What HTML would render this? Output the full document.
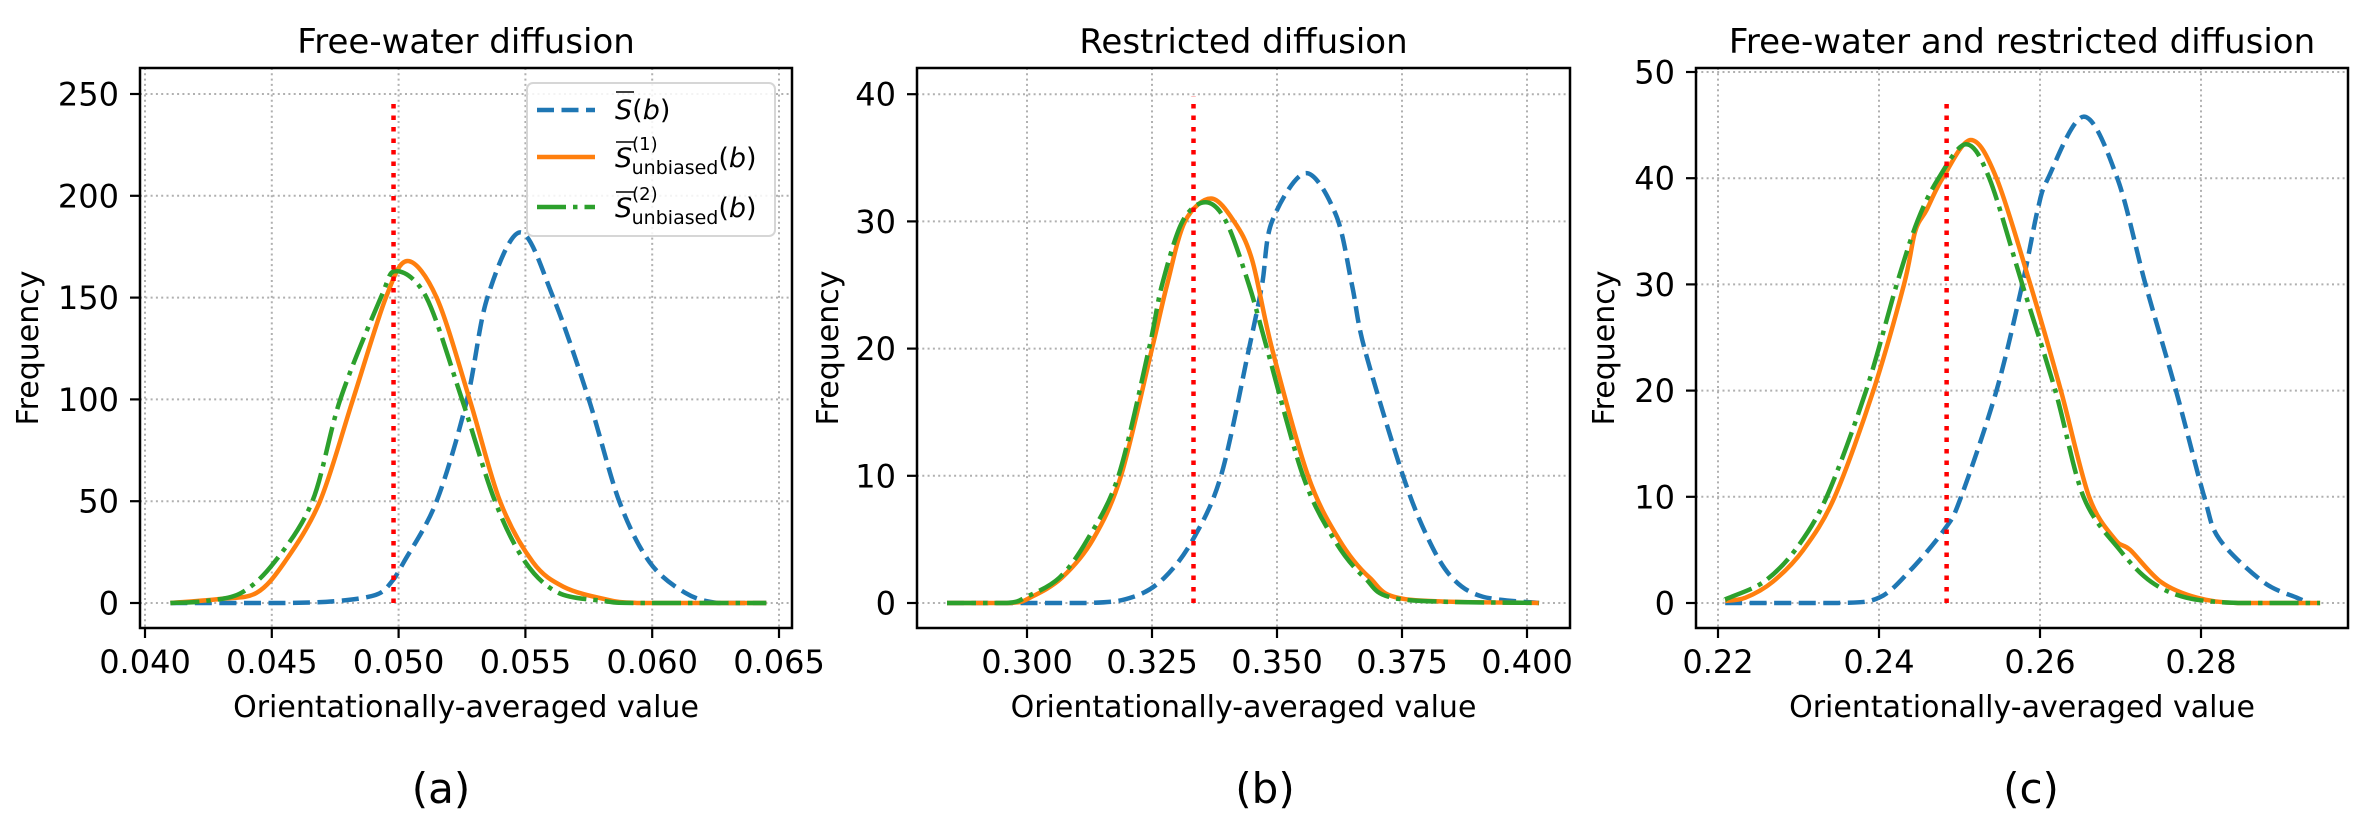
<!DOCTYPE html>
<html><head><meta charset="utf-8"><style>
html,body{margin:0;padding:0;background:#fff;}
svg{display:block;font-family:"DejaVu Sans","Liberation Sans",sans-serif;}
</style></head><body>
<svg id="fig" width="2371" height="828" viewBox="0 0 2371 828" xmlns="http://www.w3.org/2000/svg"></svg>
<script>
// ---------- Panel (a) data ----------
const aTitle = "Free-water diffusion";
const aXTicks = [0.040, 0.045, 0.050, 0.055, 0.060, 0.065];
const aXTickLabels = ["0.040","0.045","0.050","0.055","0.060","0.065"];
const aYTicks = [0, 50, 100, 150, 200, 250];
const aBlueX = [0.041,0.0455,0.0476,0.0491,0.0497,0.0502,0.0515,0.0527,0.0535,0.0548,0.0561,0.0575,0.0587,0.0599,0.0613,0.0626,0.0645];
const aBlueY = [0,0,1,4,10,20,50,100,150,182,150,100,50,20,5,0,0];
const aOrangeX = [0.041,0.043,0.0444,0.0455,0.0469,0.0482,0.0495,0.05035,0.0515,0.0528,0.054,0.0553,0.0565,0.0581,0.0595,0.0645];
const aOrangeY = [0,2,5,20,50,100,150,168,150,100,50,20,8,2,0,0];
const aGreenX = [0.041,0.0424,0.0438,0.0451,0.0466,0.0477,0.0493,0.0499,0.0511,0.0525,0.0538,0.055,0.0563,0.0581,0.0593,0.0645];
const aGreenY = [0,1,5,20,50,100,150,163,150,100,50,20,5,1,0,0];
const aRedX = 0.0498, aRedTop = 248;

// ---------- Panel (b) data ----------
const bTitle = "Restricted diffusion";
const bXTicks = [0.300, 0.325, 0.350, 0.375, 0.400];
const bXTickLabels = ["0.300","0.325","0.350","0.375","0.400"];
const bYTicks = [0, 10, 20, 30, 40];
const bBlueX = [0.284,0.3121,0.3214,0.3275,0.3332,0.3388,0.3444,0.347,0.349,0.3557,0.3618,0.365,0.3675,0.3752,0.3803,0.385,0.3911,0.4024];
const bBlueY = [0,0,0.5,2,5,10,20,25,30,33.8,30.5,25,20,10,5,2,0.5,0];
const bOrangeX = [0.284,0.2968,0.301,0.307,0.3132,0.3188,0.325,0.328,0.3316,0.3368,0.3414,0.345,0.349,0.3562,0.3624,0.3685,0.3757,0.4024];
const bOrangeY = [0,0,0.5,2,5,10,20,25,30,31.8,30,27,20,10,5,2,0.3,0];
const bGreenX = [0.284,0.296,0.300,0.3065,0.3121,0.3183,0.3244,0.327,0.3311,0.3357,0.3398,0.3444,0.348,0.3552,0.3614,0.3675,0.3747,0.4024];
const bGreenY = [0,0,0.5,2,5,10,20,25,30,31.5,30,25,20,10,5,2,0.3,0];
const bRedX = 0.3333, bRedTop = 39.8;

// ---------- Panel (c) data ----------
const cTitle = "Free-water and restricted diffusion";
const cXTicks = [0.22, 0.24, 0.26, 0.28];
const cXTickLabels = ["0.22","0.24","0.26","0.28"];
const cYTicks = [0, 10, 20, 30, 40, 50];
const cBlueX = [0.2209,0.2349,0.240,0.2438,0.2482,0.2502,0.2546,0.2578,0.2597,0.261,0.26544,0.2696,0.2731,0.2769,0.2804,0.2823,0.2877,0.2919,0.2935];
const cBlueY = [0,0,0.5,3,7,10,20,30,37,40,45.8,40,30,20,10,6,2,0.5,0];
const cOrangeX = [0.2209,0.2234,0.2268,0.2306,0.2345,0.2393,0.2431,0.2445,0.2459,0.2479,0.2514,0.2546,0.2588,0.2626,0.2661,0.2693,0.2712,0.275,0.2795,0.2846,0.2948];
const cOrangeY = [0.2,0.5,2,5,10,20,30,35,37,40,43.6,40,30,20,10,6,5,2,0.5,0,0];
const cGreenX = [0.2209,0.2214,0.2257,0.2296,0.2335,0.2384,0.2422,0.2448,0.2474,0.2508,0.2537,0.2578,0.2619,0.2654,0.2699,0.2738,0.2782,0.2846,0.2948];
const cGreenY = [0.3,0.5,2,5,10,20,30,36,40,43.2,40,30,20,10,5,2,0.5,0,0];
const cRedX = 0.2484, cRedTop = 47.5;

const NS = "http://www.w3.org/2000/svg";
const svg = document.getElementById('fig');
function mk(tag, attrs, parent, text){
  const e = document.createElementNS(NS, tag);
  for (const k in attrs) e.setAttribute(k, attrs[k]);
  if (text !== undefined) e.textContent = text;
  (parent || svg).appendChild(e);
  return e;
}
function smoothPath(pts){
  let d = "M" + pts[0][0].toFixed(1) + "," + pts[0][1].toFixed(1);
  for (let i = 0; i < pts.length - 1; i++){
    const p0 = pts[Math.max(0,i-1)], p1 = pts[i], p2 = pts[i+1], p3 = pts[Math.min(pts.length-1,i+2)];
    const t = 0.16;
    let c1y = p1[1] + (p2[1]-p0[1])*t, c2y = p2[1] - (p3[1]-p1[1])*t;
    const c1x = p1[0] + (p2[0]-p0[0])*t, c2x = p2[0] - (p3[0]-p1[0])*t;
    const lo = Math.max(p1[1],p2[1]);
    if (c1y > lo) c1y = lo; if (c2y > lo) c2y = lo;
    d += " C" + c1x.toFixed(1)+","+c1y.toFixed(1)+" "+c2x.toFixed(1)+","+c2y.toFixed(1)+" "+p2[0].toFixed(1)+","+p2[1].toFixed(1);
  }
  return d;
}

function panel(cfg){
  const g = mk('g', {});
  
  
  const L = cfg.left, R = cfg.right, T = 68, B = 628;
  const xs = v => cfg.x0px + (v - cfg.x0) / (cfg.x1 - cfg.x0) * (cfg.x1px - cfg.x0px);
  const ys = v => cfg.y0px - v * cfg.ypu;
  cfg.xticks.forEach((v,i) => {
    const gl = mk('line', {x1:xs(v), x2:xs(v), y1:T, y2:B, stroke:'#b0b0b0', 'stroke-width':2, 'stroke-dasharray':'2,3.3'}, g);
    
    
  });
  cfg.yticks.forEach(v => {
    const gl = mk('line', {x1:L, x2:R, y1:ys(v), y2:ys(v), stroke:'#b0b0b0', 'stroke-width':2, 'stroke-dasharray':'2,3.3'}, g);
    
    
  });
  const series = [
    {n:'blue-series', X:cfg.blueX, Y:cfg.blueY, c:'#1f77b4', dash:'17,7.5'},
    {n:'orange-series', X:cfg.orangeX, Y:cfg.orangeY, c:'#ff7f0e', dash:''},
    {n:'green-series', X:cfg.greenX, Y:cfg.greenY, c:'#2ca02c', dash:'29,7,4.5,7'}
  ];
  series.forEach(s => {
    const pts = s.X.map((x,i) => [xs(x), ys(s.Y[i])]);
    const attrs = {d:smoothPath(pts), fill:'none', stroke:s.c, 'stroke-width':4.5};
    if (s.dash) attrs['stroke-dasharray'] = s.dash;
    const p = mk('path', attrs, g);
    
    
  });
  const red = mk('line', {x1:xs(cfg.redX), x2:xs(cfg.redX), y1:ys(0), y2:ys(cfg.redTop), stroke:'#ff0000', 'stroke-width':4.5, 'stroke-dasharray':'4.5,7'}, g);
  
  
  const fr = mk('rect', {x:L, y:T, width:R-L, height:B-T, fill:'none', stroke:'#000', 'stroke-width':2.5}, g);
  
  
  cfg.xticks.forEach((v,i) => {
    mk('line', {x1:xs(v), x2:xs(v), y1:B, y2:B+10, stroke:'#000', 'stroke-width':2.2}, g);
    const t = mk('text', {x:xs(v), y:673, 'font-size':32, 'text-anchor':'middle'}, g, cfg.xlabels[i]);
    
    
  });
  cfg.yticks.forEach(v => {
    mk('line', {x1:L-10, x2:L, y1:ys(v), y2:ys(v), stroke:'#000', 'stroke-width':2.2}, g);
    const t = mk('text', {x:L-21, y:ys(v)+11.5, 'font-size':32, 'text-anchor':'end'}, g, String(v));
    
    
  });
  const cx = (L+R)/2;
  const tt = mk('text', {x:cx, y:53, 'font-size':34, 'text-anchor':'middle'}, g, cfg.title);
  
  
  const xl = mk('text', {x:cx, y:717, 'font-size':30, 'text-anchor':'middle'}, g, 'Orientationally-averaged value');
  
  
  const yl = mk('text', {x:0, y:0, 'font-size':30, 'text-anchor':'middle', transform:'translate('+cfg.ylabX+',348) rotate(-90)'}, g, 'Frequency');
  
  
  const pl = mk('text', {x:cfg.capX, y:803, 'font-size':42, 'text-anchor':'middle'}, g, cfg.cap);
  
  
  return g;
}

panel({id:'panel-a', left:140, right:792, x0:0.040, x1:0.065, x0px:145, x1px:779, y0px:603, ypu:2.036,
  xticks:aXTicks, xlabels:aXTickLabels, yticks:aYTicks, blueX:aBlueX, blueY:aBlueY, orangeX:aOrangeX, orangeY:aOrangeY,
  greenX:aGreenX, greenY:aGreenY, redX:aRedX, redTop:aRedTop, title:aTitle, ylabX:38, cap:'(a)', capX:441});
panel({id:'panel-b', left:917, right:1570, x0:0.300, x1:0.400, x0px:1027, x1px:1527, y0px:603, ypu:12.72,
  xticks:bXTicks, xlabels:bXTickLabels, yticks:bYTicks, blueX:bBlueX, blueY:bBlueY, orangeX:bOrangeX, orangeY:bOrangeY,
  greenX:bGreenX, greenY:bGreenY, redX:bRedX, redTop:bRedTop, title:bTitle, ylabX:838, cap:'(b)', capX:1265});
panel({id:'panel-c', left:1696, right:2348, x0:0.22, x1:0.28, x0px:1718, x1px:2201, y0px:603, ypu:10.62,
  xticks:cXTicks, xlabels:cXTickLabels, yticks:cYTicks, blueX:cBlueX, blueY:cBlueY, orangeX:cOrangeX, orangeY:cOrangeY,
  greenX:cGreenX, greenY:cGreenY, redX:cRedX, redTop:cRedTop, title:cTitle, ylabX:1614, cap:'(c)', capX:2031});
</script>
<script>
(function(){
  const NS = "http://www.w3.org/2000/svg";
  const svg = document.getElementById('fig');
  const lg = document.createElementNS(NS,'g');
  
  
  svg.appendChild(lg);
  lg.innerHTML =
    '<rect x="527" y="83" width="248" height="153" rx="6" fill="#fff" fill-opacity="0.85" stroke="#d6d6d6" stroke-width="2"/>' +
    '<line x1="537" x2="595" y1="110" y2="110" stroke="#1f77b4" stroke-width="4.5" stroke-dasharray="17,7.5"/>' +
    '<line x1="537" x2="595" y1="157" y2="157" stroke="#ff7f0e" stroke-width="4.5"/>' +
    '<line x1="537" x2="595" y1="207" y2="207" stroke="#2ca02c" stroke-width="4.5" stroke-dasharray="29,7,4.5,7"/>' +
    '<line x1="616" x2="634" y1="92" y2="92" stroke="#000" stroke-width="1.6"/>' +
    '<text x="615" y="119" font-size="27"><tspan font-style="italic">S</tspan>(<tspan font-style="italic">b</tspan>)</text>' +
    '<line x1="616" x2="634" y1="142" y2="142" stroke="#000" stroke-width="1.6"/>' +
    '<text x="615" y="167" font-size="27"><tspan font-style="italic">S</tspan><tspan font-size="18" dy="-17">(1)</tspan><tspan font-size="19" dx="-26" dy="24">unbiased</tspan><tspan dy="-7">(</tspan><tspan font-style="italic">b</tspan>)</text>' +
    '<line x1="616" x2="634" y1="192" y2="192" stroke="#000" stroke-width="1.6"/>' +
    '<text x="615" y="217" font-size="27"><tspan font-style="italic">S</tspan><tspan font-size="18" dy="-17">(2)</tspan><tspan font-size="19" dx="-26" dy="24">unbiased</tspan><tspan dy="-7">(</tspan><tspan font-style="italic">b</tspan>)</text>';
})();
</script>
</body></html>
